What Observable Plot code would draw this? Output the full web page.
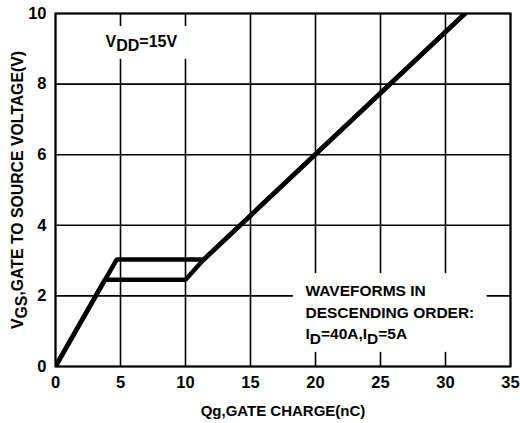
<!DOCTYPE html>
<html>
<head>
<meta charset="utf-8">
<script src="https://cdn.jsdelivr.net/npm/d3@7"></script>
<script src="https://cdn.jsdelivr.net/npm/@observablehq/plot@0.6"></script>
<style>
  html, body { margin: 0; padding: 0; background: #fff; }
  svg { display: block; }
</style>
</head>
<body>
<div id="chart"></div>
<script>
// ---- data ----
const xTicks = [0, 5, 10, 15, 20, 25, 30, 35];
const yTicks = [0, 2, 4, 6, 8, 10];
const upperQ = [0, 4.7, 11.4, 31.5];      // ID = 40A
const upperV = [0, 3.03, 3.03, 10];
const lowerQ = [0, 3.8, 10.0, 11.4, 31.5]; // ID = 5A
const lowerV = [0, 2.46, 2.46, 3.03, 10];
const xTitle = "Qg,GATE CHARGE(nC)";
const yTitle = "V{GS},GATE TO SOURCE VOLTAGE(V)";
const vddLabel = "V{DD}=15V";
const noteLines = ["WAVEFORMS IN", "DESCENDING ORDER:", "I{D}=40A,I{D}=5A"];
const noteY = [2.14, 1.52, 0.91];
// annotation background boxes (data units)
const boxes = [
  {x1: 4.2, x2: 10.4, y1: 8.7, y2: 9.63},
  {x1: 18.3, x2: 33.2, y1: 0.4, y2: 2.63}
];

const upper = upperQ.map((q, i) => ({q, v: upperV[i]}));
const lower = lowerQ.map((q, i) => ({q, v: lowerV[i]}));
const notes = noteLines.map((t, i) => ({t, y: noteY[i]}));

const font = "'Liberation Sans', Arial, Helvetica, sans-serif";

const svg = Plot.plot({
  width: 520,
  height: 423,
  marginLeft: 55,
  marginRight: 10,
  marginTop: 13,
  marginBottom: 57,
  style: {fontFamily: font, fontWeight: "bold", color: "#000", background: "#fff"},
  x: {domain: [0, 35], ticks: xTicks, label: null, tickSize: 0, tickPadding: 10},
  y: {domain: [0, 10], ticks: yTicks, label: null, tickSize: 0, tickPadding: 9},
  marks: [
    Plot.gridX(xTicks, {stroke: "#000", strokeOpacity: 1, strokeWidth: 1.6}),
    Plot.gridY(yTicks, {stroke: "#000", strokeOpacity: 1, strokeWidth: 1.6}),
    Plot.rect(boxes, {x1: "x1", x2: "x2", y1: "y1", y2: "y2", fill: "#fff"}),
    Plot.line(lower, {x: "q", y: "v", stroke: "#000", strokeWidth: 4.5, strokeLinejoin: "miter", clip: true}),
    Plot.line(upper, {x: "q", y: "v", stroke: "#000", strokeWidth: 4.5, strokeLinejoin: "miter", clip: true}),
    Plot.frame({stroke: "#000", strokeWidth: 2}),
    Plot.axisX(xTicks, {tickSize: 0, tickPadding: 10, fontSize: 16.5, fontWeight: "bold", label: null}),
    Plot.axisY(yTicks, {tickSize: 0, tickPadding: 9, fontSize: 16.5, fontWeight: "bold", label: null}),
    Plot.text([vddLabel], {x: 3.85, y: 9.21, text: d => d, textAnchor: "start", fontSize: 16, fontWeight: "bold", fill: "#000"}),
    Plot.text(notes, {x: 19.23, y: "y", text: "t", textAnchor: "start", fontSize: 15.5, fontWeight: "bold", fill: "#000"}),
    Plot.text([xTitle], {frameAnchor: "bottom", dy: 45, text: d => d, textAnchor: "middle", lineAnchor: "middle", fontSize: 15, fontWeight: "bold", fill: "#000"}),
    Plot.text([yTitle], {frameAnchor: "left", dx: -38, rotate: -90, text: d => d, textAnchor: "middle", lineAnchor: "middle", fontSize: 15.8, fontWeight: "bold", fill: "#000"})
  ]
});

// subscripts: replace "{...}" with lowered tspans
d3.select(svg).selectAll("text").each(function() {
  const el = this;
  const s = el.textContent;
  if (!s.includes("{")) return;
  while (el.firstChild) el.removeChild(el.firstChild);
  const parts = s.split(/(\{[^}]*\})/).filter(p => p.length);
  let sub = false;
  parts.forEach(p => {
    const ts = document.createElementNS("http://www.w3.org/2000/svg", "tspan");
    if (p.startsWith("{")) {
      ts.textContent = p.slice(1, -1);
      ts.setAttribute("dy", "0.3em");
      sub = true;
    } else {
      ts.textContent = p;
      if (sub) { ts.setAttribute("dy", "-0.3em"); sub = false; }
    }
    el.appendChild(ts);
  });
});

document.getElementById("chart").appendChild(svg);
</script>
</body>
</html>
